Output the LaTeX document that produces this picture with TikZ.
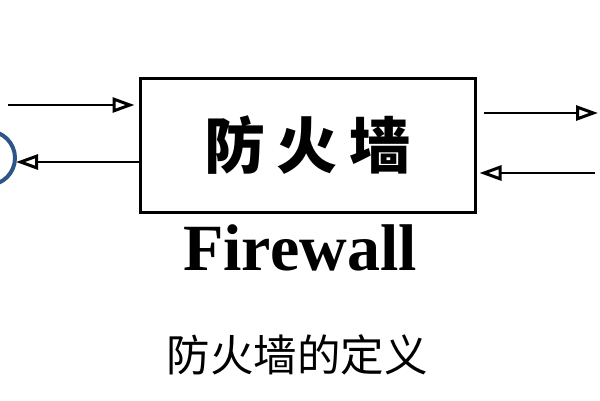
\documentclass[tikz,border=0pt]{standalone}
\usepackage{fontspec}
\setmainfont{Liberation Serif}
\newfontfamily\cjk{Noto Sans CJK SC}
\usetikzlibrary{arrows.meta, positioning}

\begin{document}
\begin{tikzpicture}[x=1pt,y=-1pt,
    flow/.style={line width=2.8pt, -{Triangle[open, length=22pt, width=15pt, line width=3pt]}},
    wall/.style={draw, line width=3pt, minimum width=335pt, minimum height=134pt, inner sep=0pt}]
  \useasboundingbox (0,0) rectangle (600,400);

    \node[wall] (fw) at (307.5,145) {\cjk\bfseries\fontsize{61}{61}\selectfont 防\hspace{12pt}火\hspace{12pt}墙};
    \node (fwname) at (300,248) {\bfseries\fontsize{66}{66}\selectfont Firewall};
    \node (caption) at (297,355) {\cjk\fontsize{43.5}{43.5}\selectfont 防火墙的定义};

    % outside ends
    \coordinate (inL)  at (8,105);
    \coordinate (outL) at (16,162);
    \coordinate (outR) at (598,113);
    \coordinate (inR)  at (595,173);

    \draw[flow] (inL) -- ([xshift=-4pt]inL -| fw.west);
    \draw[flow] (outL -| fw.west) -- (outL);
    \draw[flow] ([xshift=7pt]fw.east |- outR) -- (outR);
    \draw[flow] (inR) -- ([xshift=3pt]fw.east |- inR);

    % client circle
    \draw[line width=4pt, color={rgb,255:red,45;green,85;blue,135}] (-12,158) circle (27);
\end{tikzpicture}
\end{document}
